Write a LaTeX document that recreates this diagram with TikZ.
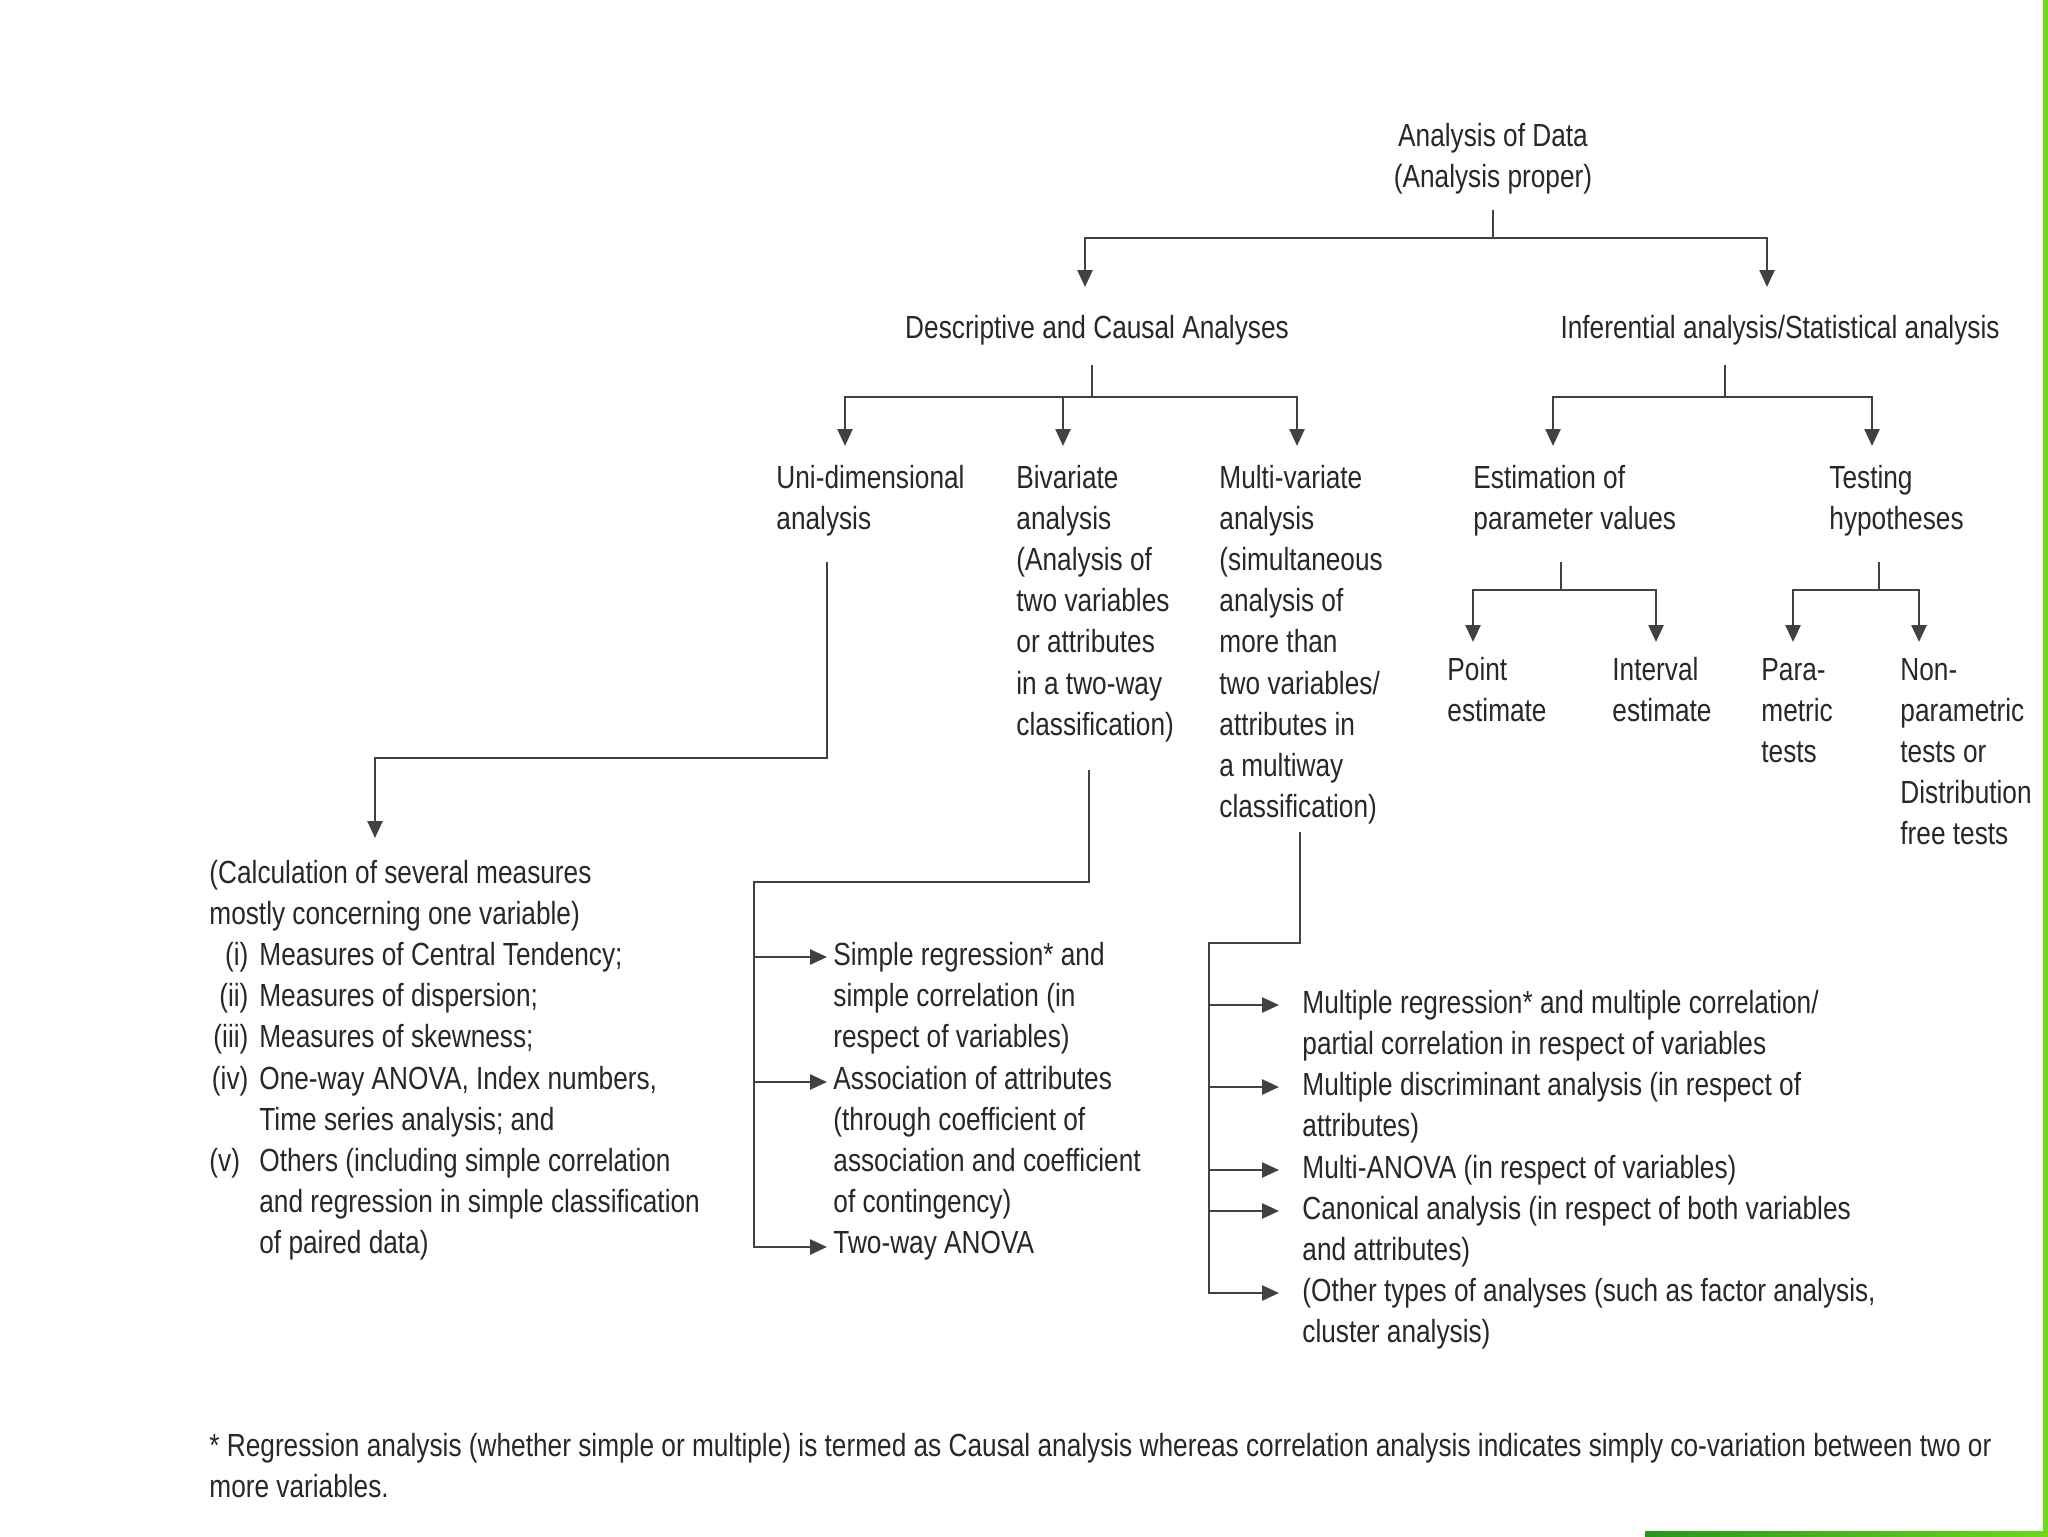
\documentclass[tikz,border=0pt]{standalone}
\usepackage{fontspec}
\setmainfont[FakeStretch=0.82]{Liberation Sans}
\usetikzlibrary{arrows.meta}
\definecolor{txt}{RGB}{40,40,40}
\definecolor{ln}{RGB}{65,65,65}
\definecolor{grn}{RGB}{110,215,30}
\definecolor{dgrn}{RGB}{40,150,30}
\tikzset{
  lbl/.style={inner sep=0pt, anchor=base west, text=txt, font=\fontsize{16}{20.6}\selectfont},
  clbl/.style={lbl, anchor=base},
  conn/.style={draw=ln, line width=1.3pt},
  arr/.style={conn, -{Triangle[length=8.5pt,width=7.5pt]}},
}
\newcommand{\tl}[1]{\begin{tabular}[t]{@{}l@{}}#1\end{tabular}}
\newcommand{\tc}[1]{\begin{tabular}[t]{@{}c@{}}#1\end{tabular}}
\newcommand{\rlab}[1]{\makebox[19.5pt][r]{#1}\hspace{5.5pt}}
\newcommand{\llab}[1]{\makebox[19.5pt][l]{#1}\hspace{5.5pt}}
\begin{document}
\begin{tikzpicture}[x=0.5pt,y=-0.5pt]
\useasboundingbox (0,0) rectangle (2048,1536);
\fill[white] (0,0) rectangle (2048,1536);
% decoration
\fill[grn] (2043,0) rectangle (2048,1536);
\shade[left color=dgrn, right color=grn] (1645,1531) rectangle (2048,1536);

% level 0
\node[clbl] (root) at (1493,146) {\tc{Analysis of Data\\(Analysis proper)}};
% level 1
\node[clbl] (desc) at (1097,338) {Descriptive and Causal Analyses};
\node[clbl] (inf) at (1780,338) {Inferential analysis/Statistical analysis};
% level 2
\node[lbl] (uni) at (776,488) {\tl{Uni-dimensional\\analysis}};
\node[lbl] (biv) at (1016,488) {\tl{Bivariate\\analysis\\(Analysis of\\two variables\\or attributes\\in a two-way\\classification)}};
\node[lbl] (mul) at (1219,488) {\tl{Multi-variate\\analysis\\(simultaneous\\analysis of\\more than\\two variables/\\attributes in\\a multiway\\classification)}};
\node[lbl] (est) at (1473,488) {\tl{Estimation of\\parameter values}};
\node[lbl] (tst) at (1829,488) {\tl{Testing\\hypotheses}};
% level 3
\node[lbl] (pt) at (1447,680) {\tl{Point\\estimate}};
\node[lbl] (iv) at (1612,680) {\tl{Interval\\estimate}};
\node[lbl] (par) at (1761,680) {\tl{Para-\\metric\\tests}};
\node[lbl] (nonp) at (1900,680) {\tl{Non-\\parametric\\tests or\\Distribution\\free tests}};
% uni list
\node[lbl] (ulist) at (209,883) {\tl{(Calculation of several measures\\
mostly concerning one variable)\\
\rlab{(i)}Measures of Central Tendency;\\
\rlab{(ii)}Measures of dispersion;\\
\rlab{(iii)}Measures of skewness;\\
\rlab{(iv)}One-way ANOVA, Index numbers,\\
\hspace{25pt}Time series analysis; and\\
\llab{(v)}Others (including simple correlation\\
\hspace{25pt}and regression in simple classification\\
\hspace{25pt}of paired data)}};
% bivariate list
\node[lbl] (b1) at (833,965) {\tl{Simple regression* and\\simple correlation (in\\respect of variables)}};
\node[lbl] (b2) at (833,1089) {\tl{Association of attributes\\(through coefficient of\\association and coefficient\\of contingency)}};
\node[lbl] (b3) at (833,1253) {Two-way ANOVA};
% multivariate list
\node[lbl] (m1) at (1302,1013) {\tl{Multiple regression* and multiple correlation/\\partial correlation in respect of variables}};
\node[lbl] (m2) at (1302,1095) {\tl{Multiple discriminant analysis (in respect of\\attributes)}};
\node[lbl] (m3) at (1302,1178) {Multi-ANOVA (in respect of variables)};
\node[lbl] (m4) at (1302,1219) {\tl{Canonical analysis (in respect of both variables\\and attributes)}};
\node[lbl] (m5) at (1302,1301) {\tl{(Other types of analyses (such as factor analysis,\\cluster analysis)}};
% footnote
\node[lbl] (foot) at (209,1456) {\tl{* Regression analysis (whether simple or multiple) is termed as Causal analysis whereas correlation analysis indicates simply co-variation between two or\\more variables.}};

% junctions and arrow ends
\coordinate (j0) at (1493,238);
\coordinate (descin) at (1085,287);
\coordinate (infin) at (1767,287);
\coordinate (j1) at (1092,397);
\coordinate (uniin) at (845,446);
\coordinate (bivin) at (1063,446);
\coordinate (mulin) at (1297,446);
\coordinate (j2) at (1725,397);
\coordinate (estin) at (1553,446);
\coordinate (tstin) at (1872,446);
\coordinate (j3) at (1561,590);
\coordinate (ptin) at (1473,642);
\coordinate (ivin) at (1656,642);
\coordinate (j4) at (1879,590);
\coordinate (parin) at (1793,642);
\coordinate (nonpin) at (1919,642);
\coordinate (ju) at (827,758);
\coordinate (ulin) at (375,838);
\coordinate (jb) at (1089,882);
\coordinate (jbl) at (754,882);
\coordinate (b1in) at (827,957);
\coordinate (b2in) at (827,1082);
\coordinate (b3in) at (827,1247);
\coordinate (jm) at (1300,943);
\coordinate (jml) at (1209,943);
\coordinate (m1in) at (1279,1005);
\coordinate (m2in) at (1279,1087);
\coordinate (m3in) at (1279,1170);
\coordinate (m4in) at (1279,1211);
\coordinate (m5in) at (1279,1293);

% connectors
\draw[conn, shorten <=5pt] (root.south) -- (j0);
\draw[arr] (j0) -| (descin);
\draw[arr] (j0) -| (infin);

\draw[conn, shorten <=10pt] (desc.south -| j1) -- (j1);
\draw[arr] (j1) -| (uniin);
\draw[arr] (j1) -| (bivin);
\draw[arr] (j1) -| (mulin);

\draw[conn, shorten <=10pt] (inf.south -| j2) -- (j2);
\draw[arr] (j2) -| (estin);
\draw[arr] (j2) -| (tstin);

\draw[conn, shorten <=10pt] (est.south -| j3) -- (j3);
\draw[arr] (j3) -| (ptin);
\draw[arr] (j3) -| (ivin);

\draw[conn, shorten <=10pt] (tst.south -| j4) -- (j4);
\draw[arr] (j4) -| (parin);
\draw[arr] (j4) -| (nonpin);

\draw[arr, shorten <=10pt] (uni.south -| ju) -- (ju) -| (ulin);

\draw[arr, shorten <=11pt] (biv.south -| jb) -- (jb) -- (jbl) |- (b3in);
\draw[arr] (jbl |- b1in) -- (b1in);
\draw[arr] (jbl |- b2in) -- (b2in);

\draw[arr, shorten <=1pt] (mul.south -| jm) -- (jm) -- (jml) |- (m5in);
\draw[arr] (jml |- m1in) -- (m1in);
\draw[arr] (jml |- m2in) -- (m2in);
\draw[arr] (jml |- m3in) -- (m3in);
\draw[arr] (jml |- m4in) -- (m4in);
\end{tikzpicture}
\end{document}
